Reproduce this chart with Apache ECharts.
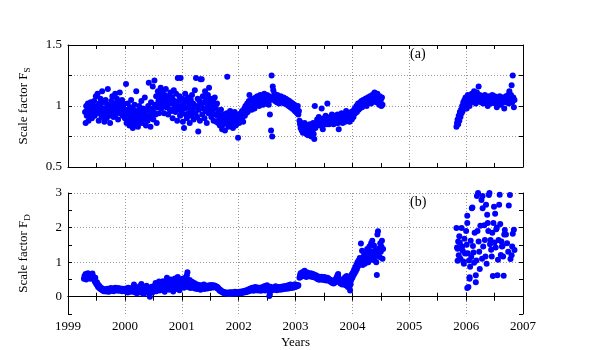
<!DOCTYPE html>
<html>
<head>
<meta charset="utf-8">
<script src="https://cdn.jsdelivr.net/npm/echarts@6/dist/echarts.min.js"></script>
<style>
html,body{margin:0;padding:0;background:#fff;}
#chart{width:589px;height:350px;}
</style>
</head>
<body>
<div id="chart"></div>
<script>
// Scale factor F_S, first period (year, value)
const fsEarly = [
[1999.30,0.95],[1999.31,0.86],[1999.32,1.00],[1999.33,0.92],[1999.34,0.97],[1999.35,1.02],[1999.36,0.88],[1999.37,0.95],[1999.38,0.99],[1999.39,0.93],[1999.40,1.03],[1999.41,0.97],[1999.42,0.90],[1999.43,1.01],[1999.44,0.95],[1999.45,0.99],[1999.46,1.04],[1999.47,0.92],[1999.48,0.97],[1999.49,1.08],[1999.50,0.94],
[1999.51,1.00],[1999.52,1.10],[1999.53,0.96],[1999.54,0.88],[1999.55,1.02],[1999.56,0.94],[1999.57,1.06],[1999.58,0.99],[1999.59,0.91],[1999.60,1.12],[1999.61,0.97],[1999.62,0.93],[1999.63,1.03],[1999.64,0.87],[1999.65,0.98],[1999.66,1.05],[1999.67,0.95],[1999.68,0.90],[1999.69,1.01],[1999.70,1.14],[1999.71,0.96],[1999.72,0.92],[1999.73,1.00],[1999.74,0.86],[1999.75,0.97],
[1999.76,1.04],[1999.77,0.95],[1999.78,1.08],[1999.79,0.99],[1999.80,0.91],[1999.81,1.02],[1999.82,0.96],[1999.83,1.10],[1999.84,0.93],[1999.85,1.00],[1999.86,1.06],[1999.87,0.97],[1999.88,0.89],[1999.89,1.03],[1999.90,0.98],[1999.91,1.11],[1999.92,0.94],[1999.93,1.01],[1999.94,0.96],[1999.95,1.05],[1999.96,0.92],[1999.97,0.99],[1999.98,1.02],[1999.99,0.95],
[2000.00,0.90],[2000.01,0.97],[2000.02,1.18],[2000.03,0.86],[2000.04,0.93],[2000.05,1.02],[2000.06,0.88],[2000.07,0.96],[2000.08,0.84],[2000.09,0.99],[2000.10,0.91],[2000.11,1.05],[2000.12,0.87],[2000.13,0.94],[2000.14,0.82],[2000.15,0.97],[2000.16,0.90],[2000.17,1.01],[2000.18,0.85],[2000.19,0.93],[2000.20,1.12],[2000.21,0.88],[2000.22,0.96],[2000.23,0.83],[2000.24,0.92],[2000.25,1.00],[2000.26,0.87],[2000.27,0.95],[2000.28,0.90],[2000.29,1.04],[2000.30,0.86],[2000.31,0.93],[2000.32,0.98],[2000.33,0.89],[2000.34,0.95],[2000.35,1.07],[2000.36,0.91],[2000.37,0.84],[2000.38,0.97],[2000.39,0.92],[2000.40,0.88],
[2000.41,1.00],[2000.42,1.19],[2000.43,0.90],[2000.44,0.96],[2000.45,0.83],[2000.46,1.03],[2000.47,0.92],[2000.48,0.98],[2000.49,1.16],[2000.50,0.89],[2000.51,0.95],[2000.52,1.21],[2000.53,1.01],[2000.54,0.93],[2000.55,1.08],[2000.56,0.86],[2000.57,0.99],[2000.58,1.12],[2000.59,1.04],[2000.60,0.94],
[2000.61,1.10],[2000.62,1.02],[2000.63,1.15],[2000.64,0.98],[2000.65,1.07],[2000.66,1.12],[2000.67,1.00],[2000.68,1.05],[2000.69,0.94],[2000.70,1.09],[2000.71,1.03],[2000.72,1.14],[2000.73,0.99],[2000.74,1.06],[2000.75,1.01],[2000.76,0.93],[2000.77,1.08],[2000.78,1.04],[2000.79,0.97],[2000.80,1.11],[2000.81,1.02],[2000.82,0.96],[2000.83,1.07],[2000.84,0.90],[2000.85,1.05],[2000.86,1.13],[2000.87,0.99],[2000.88,1.03],[2000.89,0.95],[2000.90,1.10],[2000.91,1.01],[2000.92,0.88],[2000.93,1.23],[2000.94,1.04],[2000.95,0.97],[2000.96,1.08],[2000.97,0.92],[2000.98,1.23],[2000.99,1.00],
[2001.00,0.95],[2001.01,1.06],[2001.02,0.87],[2001.03,1.02],[2001.04,0.82],[2001.05,0.98],[2001.06,1.10],[2001.07,0.93],[2001.08,1.04],[2001.09,0.90],[2001.10,0.99],[2001.11,1.07],[2001.12,0.94],[2001.13,1.01],[2001.14,0.86],[2001.15,0.97],[2001.16,1.05],[2001.17,0.92],[2001.18,1.09],[2001.19,0.96],[2001.20,1.02],[2001.21,0.89],[2001.22,0.99],[2001.23,1.13],[2001.24,0.94],[2001.25,1.23],[2001.26,1.00],[2001.27,0.91],[2001.28,1.06],[2001.29,0.79],
[2001.30,0.97],[2001.31,1.04],[2001.32,0.88],[2001.33,1.22],[2001.34,1.01],[2001.35,1.22],[2001.36,0.93],[2001.37,1.08],[2001.38,0.98],[2001.39,1.03],[2001.40,0.90],[2001.41,1.12],[2001.42,0.96],[2001.43,1.05],[2001.44,0.86],[2001.45,1.00],[2001.46,1.09],[2001.47,0.94],[2001.48,1.15],[2001.49,1.02],[2001.50,0.97],[2001.51,1.06],[2001.52,0.91],[2001.53,1.01],[2001.54,0.95],[2001.55,1.04],[2001.56,0.88],[2001.57,0.99],[2001.58,1.07],[2001.59,0.93],[2001.60,0.98],[2001.61,0.87],[2001.62,1.02],[2001.63,0.92],[2001.64,0.86],
[2001.65,0.95],[2001.66,0.89],[2001.67,0.84],[2001.68,0.92],[2001.69,0.97],[2001.70,0.88],[2001.71,0.81],[2001.72,0.90],[2001.73,0.85],[2001.74,0.93],[2001.75,0.87],[2001.76,0.80],[2001.77,0.91],[2001.78,0.86],[2001.79,0.94],[2001.80,1.24],[2001.81,0.89],[2001.82,0.83],[2001.83,0.92],[2001.84,0.87],[2001.85,0.96],[2001.86,0.90],[2001.87,0.84],[2001.88,0.93],[2001.89,0.88],[2001.90,0.82],[2001.91,0.91],[2001.92,0.86],[2001.93,0.95],[2001.94,0.89],[2001.95,0.84],[2001.96,0.92],[2001.97,0.87],[2001.98,0.93],[2001.99,0.74],[2002.00,0.89],
[2002.01,0.86],[2002.02,0.92],[2002.03,0.88],[2002.04,0.94],[2002.05,0.90],[2002.06,0.96],[2002.07,0.91],[2002.08,0.87],[2002.09,0.95],[2002.10,0.98],[2002.11,0.92],[2002.12,1.00],[2002.13,0.94],[2002.14,0.97],[2002.15,1.02],[2002.16,0.95],[2002.17,0.99],[2002.18,1.04],[2002.19,1.09],[2002.20,0.98],[2002.21,1.01],[2002.22,1.05],[2002.23,0.97],[2002.24,1.03],[2002.25,1.00],[2002.26,1.06],[2002.27,1.02],[2002.28,0.98],[2002.29,1.04],[2002.30,1.07],
[2002.31,1.01],[2002.32,1.05],[2002.33,1.08],[2002.34,1.03],[2002.35,1.06],[2002.36,1.00],[2002.37,1.04],[2002.38,1.09],[2002.39,1.02],[2002.40,1.06],[2002.41,1.04],[2002.42,1.08],[2002.43,1.01],[2002.44,1.05],[2002.45,1.10],[2002.46,1.03],[2002.47,1.07],[2002.48,1.02],[2002.49,1.05],[2002.50,1.09],[2002.51,1.04],[2002.52,1.06],[2002.53,1.01],[2002.54,1.08],[2002.55,0.93],[2002.56,1.05],[2002.57,0.80],[2002.58,1.25],[2002.59,0.75],[2002.60,1.16],
[2002.61,1.13],[2002.62,1.07],[2002.63,1.10],[2002.64,1.04],[2002.65,1.08],[2002.66,1.06],[2002.67,1.03],[2002.68,1.09],[2002.69,1.05],[2002.70,1.07],[2002.71,1.02],[2002.72,1.06],[2002.73,1.04],[2002.74,1.08],[2002.75,1.05],[2002.76,1.03],[2002.77,1.06],[2002.78,1.04],[2002.79,1.07],[2002.80,1.02],[2002.81,1.05],[2002.82,1.03],[2002.83,1.06],[2002.84,1.04],[2002.85,1.01],[2002.86,1.05],[2002.87,1.03],[2002.88,1.00],[2002.89,1.04],[2002.90,1.02],[2002.91,0.99],[2002.92,1.03],[2002.93,1.00],[2002.94,0.98],
[2002.95,1.02],[2002.96,0.99],[2002.97,0.97],[2002.98,1.01],[2002.99,0.96],[2003.00,0.99],[2003.01,0.95],[2003.02,0.98],[2003.03,0.94],[2003.04,1.00],[2003.05,0.93],[2003.06,0.96],
[2003.07,0.88],[2003.08,0.85],[2003.09,0.82],[2003.10,0.86],[2003.11,0.80],[2003.12,0.84],[2003.13,0.78],[2003.14,0.83],[2003.15,0.81],[2003.16,0.86],[2003.17,0.79],[2003.18,0.82],[2003.19,0.77],[2003.20,0.84],[2003.21,0.80],[2003.22,0.76],[2003.23,0.83],[2003.24,0.79],[2003.25,0.85],[2003.26,0.78],[2003.27,0.81],[2003.28,0.75],[2003.29,0.83],[2003.30,0.79],[2003.31,0.86],[2003.32,0.77],[2003.33,0.73],[2003.34,1.00],[2003.35,0.82],
[2003.36,0.86],[2003.37,0.84],[2003.38,0.89],[2003.39,0.85],[2003.40,0.88],[2003.41,0.91],[2003.42,0.86],[2003.43,0.84],[2003.44,0.89],[2003.45,0.87],[2003.46,0.98],[2003.47,0.86],[2003.48,0.81],[2003.49,0.88],[2003.50,0.90],[2003.51,0.85],[2003.52,0.88],[2003.53,0.92],[2003.54,0.86],[2003.55,0.85],[2003.56,1.02],[2003.57,0.87],[2003.58,0.90],[2003.59,0.85],
[2003.60,0.88],[2003.61,0.91],[2003.62,0.86],[2003.63,0.89],[2003.64,0.93],[2003.65,0.87],[2003.66,0.90],[2003.67,0.85],[2003.68,0.89],[2003.69,0.92],[2003.70,0.87],[2003.71,0.90],[2003.72,0.86],[2003.73,0.88],[2003.74,0.93],[2003.75,0.86],[2003.76,0.81],[2003.77,0.89],[2003.78,0.91],[2003.79,0.87],[2003.80,0.90],[2003.81,0.94],[2003.82,0.88],[2003.83,0.86],[2003.84,0.91],[2003.85,0.89],[2003.86,0.93],[2003.87,0.87],[2003.88,0.90],[2003.89,0.96],[2003.90,0.88],[2003.91,0.92],[2003.92,0.89],[2003.93,0.94],[2003.94,0.90],[2003.95,0.87],[2003.96,0.93],[2003.97,0.91],[2003.98,0.95],[2003.99,0.89],
[2004.00,0.93],[2004.01,0.96],[2004.02,0.91],[2004.03,0.95],[2004.04,0.98],[2004.05,0.94],[2004.06,0.97],[2004.07,1.00],[2004.08,0.95],[2004.09,0.99],[2004.10,1.02],[2004.11,0.97],[2004.12,1.01],[2004.13,0.98],[2004.14,1.03],[2004.15,1.00],[2004.16,1.04],[2004.17,0.99],[2004.18,1.02],[2004.19,1.05],[2004.20,1.01],[2004.21,1.04],[2004.22,1.02],[2004.23,1.06],[2004.24,1.03],[2004.25,1.00],[2004.26,1.05],[2004.27,1.07],[2004.28,1.03],[2004.29,1.06],[2004.30,1.04],[2004.31,1.08],[2004.32,1.05],[2004.33,1.02],[2004.34,1.07],[2004.35,1.09],[2004.36,1.04],[2004.37,1.06],[2004.38,1.10],[2004.39,1.11],[2004.40,1.05],[2004.41,1.08],[2004.42,1.03],[2004.43,1.07],[2004.44,1.10],[2004.45,1.04],[2004.46,1.06],[2004.47,1.01],[2004.48,1.08],[2004.49,1.03],[2004.50,1.05],[2004.51,1.00],[2004.52,1.07],[2004.53,1.01]
];
// Scale factor F_S, second period
const fsLate = [
[2005.83,0.83],[2005.84,0.86],[2005.85,0.89],[2005.86,0.85],[2005.87,0.92],[2005.88,0.88],[2005.89,0.95],[2005.90,0.91],[2005.91,0.97],[2005.92,0.94],[2005.93,1.00],[2005.94,0.96],[2005.95,1.03],[2005.96,0.99],[2005.97,1.05],[2005.98,1.01],[2005.99,1.07],[2006.00,1.02],[2006.01,0.98],[2006.02,1.06],[2006.03,1.09],[2006.04,1.03],[2006.05,1.07],[2006.06,1.00],[2006.07,1.05],[2006.08,1.08],[2006.09,1.03],[2006.10,1.10],[2006.11,1.06],[2006.12,1.04],[2006.13,1.08],[2006.14,1.12],[2006.15,1.05],[2006.16,1.09],[2006.17,1.02],[2006.18,1.07],[2006.19,1.11],[2006.20,1.05],[2006.21,1.08],[2006.22,1.16],[2006.23,1.04],[2006.24,1.09],[2006.25,1.06],[2006.26,1.03],[2006.27,1.07],[2006.28,1.05],[2006.29,1.08],[2006.30,1.02],[2006.31,1.06],[2006.32,1.04],[2006.33,1.09],[2006.34,1.05],[2006.35,1.07],[2006.36,1.03],[2006.37,1.06],[2006.38,1.00],[2006.39,1.05],[2006.40,1.08],[2006.41,1.04],[2006.42,1.06],[2006.43,1.02],[2006.44,1.07],[2006.45,1.05],[2006.46,1.09],[2006.47,1.03],[2006.48,1.06],[2006.49,1.04],[2006.50,1.08],[2006.51,1.02],[2006.52,1.06],[2006.53,1.05],[2006.54,0.99],[2006.55,1.07],[2006.56,1.04],[2006.57,1.06],[2006.58,1.03],[2006.59,1.08],[2006.60,1.05],[2006.61,1.01],[2006.62,1.06],[2006.63,1.04],[2006.64,1.07],[2006.65,1.03],[2006.66,1.05],[2006.67,0.98],[2006.68,1.06],[2006.69,1.04],[2006.70,1.08],[2006.71,1.03],[2006.72,1.06],[2006.73,1.05],[2006.74,1.09],[2006.75,1.02],[2006.76,1.12],[2006.77,1.06],[2006.78,1.04],[2006.79,1.09],[2006.80,1.17],[2006.81,1.03],[2006.82,1.25],[2006.83,1.07],[2006.84,0.99],[2006.85,1.05]
];
// Scale factor F_D, first period
const fdEarly = [
[1999.28,0.52],[1999.29,0.60],[1999.30,0.55],[1999.31,0.66],[1999.32,0.50],[1999.33,0.62],[1999.34,0.58],[1999.35,0.68],[1999.36,0.54],[1999.37,0.61],[1999.38,0.65],[1999.39,0.52],[1999.40,0.59],[1999.41,0.63],[1999.42,0.56],[1999.43,0.67],[1999.44,0.53],[1999.45,0.58],
[1999.46,0.50],[1999.47,0.44],[1999.48,0.55],[1999.49,0.40],[1999.50,0.36],[1999.51,0.42],[1999.52,0.32],[1999.53,0.28],[1999.54,0.34],[1999.55,0.25],[1999.56,0.29],[1999.57,0.22],[1999.58,0.26],[1999.59,0.20],[1999.60,0.24],[1999.61,0.18],[1999.62,0.22],[1999.63,0.16],[1999.64,0.20],[1999.65,0.17],
[1999.66,0.21],[1999.67,0.15],[1999.68,0.19],[1999.69,0.23],[1999.70,0.16],[1999.71,0.20],[1999.72,0.14],[1999.73,0.22],[1999.74,0.18],[1999.75,0.25],[1999.76,0.17],[1999.77,0.21],[1999.78,0.19],[1999.79,0.24],[1999.80,0.16],[1999.81,0.22],[1999.82,0.20],[1999.83,0.26],[1999.84,0.18],[1999.85,0.23],[1999.86,0.21],[1999.87,0.19],[1999.88,0.25],[1999.89,0.17],[1999.90,0.22],[1999.91,0.20],[1999.92,0.24],[1999.93,0.18],[1999.94,0.21],[1999.95,0.16],[1999.96,0.23],[1999.97,0.19],[1999.98,0.22],[1999.99,0.17],
[2000.00,0.20],[2000.01,0.15],[2000.02,0.24],[2000.03,0.18],[2000.04,0.22],[2000.05,0.12],[2000.06,0.26],[2000.07,0.19],[2000.08,0.17],[2000.09,0.23],[2000.10,0.14],[2000.11,0.20],[2000.12,0.25],[2000.13,0.16],[2000.14,0.21],[2000.15,0.18],[2000.16,0.35],[2000.17,0.13],[2000.18,0.22],[2000.19,0.17],[2000.20,0.27],[2000.21,0.10],[2000.22,0.20],[2000.23,0.15],[2000.24,0.24],[2000.25,0.18],[2000.26,0.30],[2000.27,0.12],[2000.28,0.21],[2000.29,0.37],[2000.30,0.16],[2000.31,0.23],[2000.32,0.19],[2000.33,0.08],[2000.34,0.25],[2000.35,0.17],[2000.36,0.22],[2000.37,0.14],[2000.38,0.32],[2000.39,0.20],[2000.40,0.26],[2000.41,0.11],[2000.42,0.23],[2000.43,0.18],[2000.44,0.00],[2000.45,0.24],[2000.46,0.16],[2000.47,0.29],[2000.48,0.21],[2000.49,0.13],[2000.50,0.27],
[2000.51,0.19],[2000.52,0.32],[2000.53,0.24],[2000.54,0.40],[2000.55,0.16],[2000.56,0.28],[2000.57,0.35],[2000.58,0.22],[2000.59,0.30],[2000.60,0.44],[2000.61,0.18],[2000.62,0.33],[2000.63,0.26],[2000.64,0.38],[2000.65,0.21],[2000.66,0.31],[2000.67,0.45],[2000.68,0.25],[2000.69,0.36],[2000.70,0.14],[2000.71,0.29],[2000.72,0.41],[2000.73,0.23],[2000.74,0.55],[2000.75,0.34],[2000.76,0.27],[2000.77,0.47],[2000.78,0.20],[2000.79,0.37],[2000.80,0.30],[2000.81,0.50],[2000.82,0.25],[2000.83,0.42],[2000.84,0.33],[2000.85,0.15],[2000.86,0.39],[2000.87,0.28],[2000.88,0.53],[2000.89,0.36],[2000.90,0.22],[2000.91,0.44],[2000.92,0.31],[2000.93,0.57],[2000.94,0.27],[2000.95,0.40],[2000.96,0.19],[2000.97,0.35],[2000.98,0.48],[2000.99,0.29],
[2001.00,0.38],[2001.01,0.52],[2001.02,0.30],[2001.03,0.45],[2001.04,0.26],[2001.05,0.36],[2001.06,0.55],[2001.07,0.33],[2001.08,0.42],[2001.09,0.62],[2001.10,0.71],[2001.11,0.28],[2001.12,0.40],[2001.13,0.34],[2001.14,0.48],[2001.15,0.25],[2001.16,0.37],[2001.17,0.31],[2001.18,0.43],[2001.19,0.27],[2001.20,0.35],[2001.21,0.29],[2001.22,0.40],[2001.23,0.24],[2001.24,0.33],[2001.25,0.28],[2001.26,0.36],[2001.27,0.22],[2001.28,0.31],[2001.29,0.26],
[2001.30,0.34],[2001.31,0.25],[2001.32,0.30],[2001.33,0.20],[2001.34,0.29],[2001.35,0.33],[2001.36,0.24],[2001.37,0.31],[2001.38,0.27],[2001.39,0.35],[2001.40,0.22],[2001.41,0.30],[2001.42,0.26],[2001.43,0.32],[2001.44,0.28],[2001.45,0.24],[2001.46,0.31],[2001.47,0.27],[2001.48,0.33],[2001.49,0.29],[2001.50,0.25],[2001.51,0.30],[2001.52,0.34],[2001.53,0.28],[2001.54,0.31],[2001.55,0.27],[2001.56,0.33],[2001.57,0.29],[2001.58,0.32],[2001.59,0.28],[2001.60,0.30],[2001.61,0.26],[2001.62,0.29],[2001.63,0.24],[2001.64,0.26],
[2001.65,0.22],[2001.66,0.19],[2001.67,0.21],[2001.68,0.16],[2001.69,0.18],[2001.70,0.14],[2001.71,0.15],[2001.72,0.12],[2001.73,0.14],[2001.74,0.11],[2001.75,0.13],[2001.76,0.10],[2001.77,0.12],[2001.78,0.09],[2001.79,0.11],[2001.80,0.10],
[2001.81,0.12],[2001.82,0.08],[2001.83,0.11],[2001.84,0.09],[2001.85,0.13],[2001.86,0.10],[2001.87,0.12],[2001.88,0.08],[2001.89,0.11],[2001.90,0.13],[2001.91,0.09],[2001.92,0.12],[2001.93,0.10],[2001.94,0.14],[2001.95,0.11],[2001.96,0.09],[2001.97,0.13],[2001.98,0.10],[2001.99,0.12],[2002.00,0.11],[2002.01,0.14],[2002.02,0.10],[2002.03,0.13],[2002.04,0.12],[2002.05,0.15],[2002.06,0.11],[2002.07,0.13],[2002.08,0.16],[2002.09,0.12],[2002.10,0.14],[2002.11,0.17],[2002.12,0.13],[2002.13,0.15],[2002.14,0.19],[2002.15,0.14],[2002.16,0.17],[2002.17,0.21],[2002.18,0.16],[2002.19,0.19],[2002.20,0.23],
[2002.21,0.18],[2002.22,0.24],[2002.23,0.20],[2002.24,0.26],[2002.25,0.21],[2002.26,0.17],[2002.27,0.25],[2002.28,0.22],[2002.29,0.28],[2002.30,0.19],[2002.31,0.24],[2002.32,0.21],[2002.33,0.27],[2002.34,0.18],[2002.35,0.23],[2002.36,0.20],[2002.37,0.26],[2002.38,0.22],[2002.39,0.17],[2002.40,0.24],[2002.41,0.21],[2002.42,0.28],[2002.43,0.19],[2002.44,0.25],[2002.45,0.22],[2002.46,0.31],[2002.47,0.18],[2002.48,0.26],[2002.49,0.23],[2002.50,0.33],[2002.51,0.20],[2002.52,0.27],[2002.53,0.24],[2002.54,0.02],[2002.55,0.08],[2002.56,0.29],[2002.57,0.21],[2002.58,0.26],[2002.59,0.19],[2002.60,0.24],
[2002.61,0.22],[2002.62,0.27],[2002.63,0.20],[2002.64,0.25],[2002.65,0.30],[2002.66,0.23],[2002.67,0.19],[2002.68,0.26],[2002.69,0.22],[2002.70,0.28],[2002.71,0.24],[2002.72,0.20],[2002.73,0.27],[2002.74,0.23],[2002.75,0.29],[2002.76,0.21],[2002.77,0.26],[2002.78,0.24],[2002.79,0.30],[2002.80,0.22],[2002.81,0.27],[2002.82,0.25],[2002.83,0.31],[2002.84,0.23],[2002.85,0.28],[2002.86,0.26],[2002.87,0.33],[2002.88,0.24],[2002.89,0.29],[2002.90,0.27],[2002.91,0.35],[2002.92,0.25],[2002.93,0.30],[2002.94,0.28],[2002.95,0.34],[2002.96,0.26],[2002.97,0.31],[2002.98,0.29],[2002.99,0.36],[2003.00,0.28],[2003.01,0.32],[2003.02,0.30],[2003.03,0.34],[2003.04,0.31],[2003.05,0.33],
[2003.07,0.55],[2003.08,0.62],[2003.09,0.68],[2003.10,0.58],[2003.11,0.65],[2003.12,0.71],[2003.13,0.60],[2003.14,0.66],[2003.15,0.73],[2003.16,0.75],[2003.17,0.63],[2003.18,0.69],[2003.19,0.57],[2003.20,0.64],[2003.21,0.70],[2003.22,0.61],[2003.23,0.67],[2003.24,0.59],[2003.25,0.65],[2003.26,0.62],[2003.27,0.68],[2003.28,0.58],[2003.29,0.64],[2003.30,0.60],[2003.31,0.66],[2003.32,0.56],[2003.33,0.62],[2003.34,0.59],[2003.35,0.63],
[2003.36,0.57],[2003.37,0.53],[2003.38,0.60],[2003.39,0.55],[2003.40,0.50],[2003.41,0.58],[2003.42,0.54],[2003.43,0.49],[2003.44,0.56],[2003.45,0.52],[2003.46,0.58],[2003.47,0.51],[2003.48,0.55],[2003.49,0.48],[2003.50,0.53],[2003.51,0.57],[2003.52,0.50],[2003.53,0.54],[2003.54,0.47],[2003.55,0.52],[2003.56,0.55],[2003.57,0.49],[2003.58,0.53],[2003.59,0.46],
[2003.60,0.50],[2003.61,0.44],[2003.62,0.48],[2003.63,0.42],[2003.64,0.46],[2003.65,0.40],[2003.66,0.44],[2003.67,0.38],[2003.68,0.43],[2003.69,0.47],[2003.70,0.41],[2003.71,0.52],[2003.72,0.45],[2003.73,0.58],[2003.74,0.62],[2003.75,0.66],[2003.76,0.55],[2003.77,0.49],[2003.78,0.43],[2003.79,0.38],[2003.80,0.46],[2003.81,0.40],[2003.82,0.35],[2003.83,0.44],[2003.84,0.50],[2003.85,0.38],[2003.86,0.45],[2003.87,0.56],[2003.88,0.33],[2003.89,0.48],[2003.90,0.60],[2003.91,0.40],[2003.92,0.28],[2003.93,0.52],[2003.94,0.44],[2003.95,0.25],[2003.96,0.18],[2003.97,0.36],[2003.98,0.48],[2003.99,0.65],
[2004.00,0.55],[2004.01,0.70],[2004.02,0.62],[2004.03,0.78],[2004.04,0.68],[2004.05,0.85],[2004.06,0.74],[2004.07,0.92],[2004.08,0.80],[2004.09,1.00],[2004.10,0.88],[2004.11,1.05],[2004.12,0.94],[2004.13,1.12],[2004.14,0.98],[2004.15,1.54],
[2004.16,1.08],[2004.17,1.33],[2004.18,0.92],[2004.19,1.15],[2004.20,1.02],[2004.21,1.25],[2004.22,0.95],[2004.23,1.10],[2004.24,1.20],[2004.25,1.05],[2004.26,1.38],[2004.27,1.12],[2004.28,1.00],[2004.29,1.28],[2004.30,1.45],[2004.31,1.18],[2004.32,1.08],[2004.33,1.55],[2004.34,1.30],[2004.35,1.62],[2004.36,1.22],[2004.37,1.12],[2004.38,1.48],[2004.39,1.05],[2004.40,1.35],[2004.41,1.20],[2004.42,1.00],[2004.43,0.63],[2004.44,1.80],[2004.45,1.89],[2004.46,1.25],[2004.47,1.40],[2004.48,1.15],[2004.49,1.55],[2004.50,1.30],[2004.51,1.45],[2004.52,1.62],[2004.53,1.10],[2004.54,1.38]
];
// Scale factor F_D, second period
const fdLate = [
[2005.83,1.99],[2005.84,1.42],[2005.85,1.39],[2005.85,1.04],[2005.86,1.60],[2005.87,1.20],[2005.88,1.75],[2005.89,1.56],[2005.90,1.10],[2005.92,1.99],[2005.93,1.45],[2005.94,1.33],[2005.95,1.02],[2005.96,0.95],[2005.97,1.68],[2005.98,1.25],[2006.00,1.90],[2006.01,1.50],[2006.02,2.13],[2006.02,2.34],[2006.02,0.25],[2006.03,1.26],[2006.04,0.28],[2006.05,1.05],[2006.06,0.56],[2006.06,0.52],[2006.07,0.87],[2006.08,1.62],[2006.09,1.15],[2006.10,2.56],[2006.11,2.58],[2006.12,1.47],[2006.13,1.28],[2006.14,0.98],[2006.15,1.85],[2006.17,0.62],[2006.17,0.42],[2006.18,1.05],[2006.19,2.91],[2006.20,1.90],[2006.21,3.00],[2006.22,1.60],[2006.23,1.30],[2006.24,0.80],[2006.25,2.05],[2006.27,2.80],[2006.28,1.10],[2006.29,2.91],[2006.29,2.56],[2006.30,1.45],[2006.32,2.07],[2006.33,1.64],[2006.34,1.16],[2006.35,2.66],[2006.36,0.95],[2006.37,2.37],[2006.38,2.13],[2006.39,1.90],[2006.40,2.94],[2006.41,3.00],[2006.42,1.52],[2006.43,1.64],[2006.44,1.36],[2006.45,1.16],[2006.46,1.85],[2006.47,0.60],[2006.48,2.13],[2006.49,2.60],[2006.50,1.57],[2006.51,2.40],[2006.52,1.42],[2006.53,1.95],[2006.54,2.00],[2006.55,0.62],[2006.56,1.07],[2006.57,1.64],[2006.58,2.66],[2006.59,2.95],[2006.60,2.10],[2006.61,1.21],[2006.62,1.60],[2006.63,1.45],[2006.64,1.47],[2006.65,1.16],[2006.66,0.61],[2006.67,1.80],[2006.68,1.93],[2006.70,1.80],[2006.72,1.55],[2006.74,1.30],[2006.75,2.64],[2006.77,2.94],[2006.78,1.09],[2006.80,1.20],[2006.81,1.45],[2006.82,1.82],[2006.84,1.94],[2006.85,1.35]
];
const yearTicks = [1999, 2000, 2001, 2002, 2003, 2004, 2005, 2006, 2007];
const fsLabels = [0.5, 1, 1.5];
const fdLabels = [0, 1, 2, 3];

const FONT = 'Liberation Serif';
const chart = echarts.init(document.getElementById('chart'), null, {renderer: 'canvas'});

function xAxisDef(gridIndex, pos, labels, name) {
  return {
    type: 'value', gridIndex: gridIndex, position: pos,
    min: yearTicks[0], max: yearTicks[yearTicks.length - 1], interval: 1,
    axisLine: {show: true, lineStyle: {color: '#000', width: 1}},
    axisTick: {show: true, inside: true, length: 4, lineStyle: {color: '#000'}},
    minorTick: {show: true, splitNumber: 2, length: 4, lineStyle: {color: '#000'}},
    splitLine: {show: pos === 'bottom', lineStyle: {color: '#999', type: [1, 2], width: 1}},
    axisLabel: {show: labels, color: '#000', fontFamily: FONT, fontSize: 13, margin: 6,
      formatter: v => yearTicks.indexOf(v) >= 0 ? String(v) : ''},
    name: name || '', nameLocation: 'middle', nameGap: 22,
    nameTextStyle: {color: '#000', fontFamily: FONT, fontSize: 13}
  };
}
function yAxisDef(gridIndex, pos, min, max, interval, labelList, gridColors, name) {
  return {
    type: 'value', gridIndex: gridIndex, position: pos,
    min: min, max: max, interval: interval,
    axisLine: {show: true, lineStyle: {color: '#000', width: 1}},
    axisTick: {show: true, inside: true, length: 4, lineStyle: {color: '#000'}},
    splitLine: {show: pos === 'left', lineStyle: {color: gridColors, type: [1, 2], width: 1}},
    axisLabel: {show: pos === 'left', color: '#000', fontFamily: FONT, fontSize: 13, margin: 6,
      formatter: v => labelList.some(l => Math.abs(l - v) < 1e-9) ? String(v) : ''},
    name: name || '', nameLocation: 'middle', nameGap: 36, nameRotate: 90,
    nameMoveOverlap: false,
    nameTextStyle: {
      color: '#000', fontFamily: FONT, fontSize: 13,
      rich: {
        n: {color: '#000', fontFamily: FONT, fontSize: 13},
        s: {color: '#000', fontFamily: FONT, fontSize: 9, padding: [7, 0, 0, 0]}
      }
    }
  };
}

const dot = {color: '#0000ff', opacity: 1};
chart.setOption({
  animation: false,
  backgroundColor: '#fff',
  grid: [
    {left: 68, right: 66, top: 45, height: 122, containLabel: false},
    {left: 68, right: 66, top: 193, height: 122, containLabel: false}
  ],
  xAxis: [
    xAxisDef(0, 'bottom', false),
    xAxisDef(0, 'top', false),
    xAxisDef(1, 'bottom', true, 'Years'),
    xAxisDef(1, 'top', false)
  ],
  yAxis: [
    yAxisDef(0, 'left', 0.5, 1.5, 0.25, fsLabels, ['#999'], '{n|Scale factor F}{s|S}'),
    yAxisDef(0, 'right', 0.5, 1.5, 0.25, fsLabels, ['#999']),
    yAxisDef(1, 'left', -0.5, 3, 0.5, fdLabels, ['rgba(0,0,0,0)', '#999'], '{n|Scale factor F}{s|D}'),
    yAxisDef(1, 'right', -0.5, 3, 0.5, fdLabels, ['rgba(0,0,0,0)', '#999'])
  ],
  graphic: [
    {type: 'text', left: 410, top: 47, style: {text: '(a)', fill: '#000', font: '14px "Liberation Serif"'}},
    {type: 'text', left: 410, top: 195, style: {text: '(b)', fill: '#000', font: '14px "Liberation Serif"'}}
  ],
  series: [
    {type: 'scatter', xAxisIndex: 0, yAxisIndex: 0, symbolSize: 6, itemStyle: dot, data: fsEarly},
    {type: 'scatter', xAxisIndex: 0, yAxisIndex: 0, symbolSize: 6, itemStyle: dot, data: fsLate},
    {type: 'scatter', xAxisIndex: 2, yAxisIndex: 2, symbolSize: 6, itemStyle: dot, data: fdEarly},
    {type: 'scatter', xAxisIndex: 2, yAxisIndex: 2, symbolSize: 6, itemStyle: dot, data: fdLate}
  ]
});
</script>
</body>
</html>
